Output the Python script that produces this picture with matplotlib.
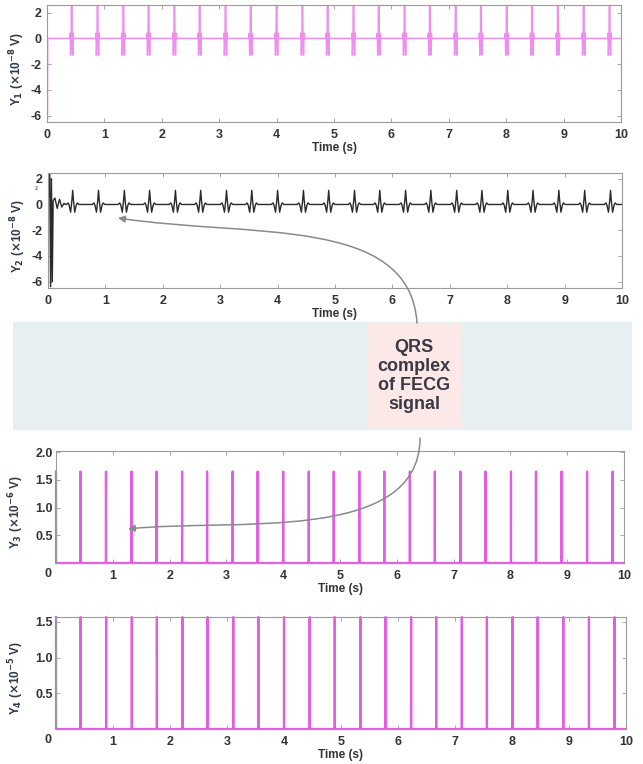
import numpy as np
import matplotlib
matplotlib.use("Agg")
import matplotlib.pyplot as plt
from matplotlib.path import Path
from matplotlib.patches import FancyArrowPatch, Rectangle

plt.rcParams["font.family"] = ["Liberation Sans", "DejaVu Sans"]
plt.rcParams["font.weight"] = "bold"

# beat instants (s) shared by all four channels
beat_times = [0.43, 0.88, 1.33, 1.77, 2.22, 2.66, 3.11, 3.55, 4.00, 4.45, 4.89,
              5.34, 5.78, 6.23, 6.67, 7.12, 7.56, 8.01, 8.45, 8.90, 9.35, 9.80]

# Y1 (x1e-8 V): start-up transient and per-beat shape
y1_start_t = [0.000, 0.006, 0.012]
y1_start_v = [3.0, -6.4, 0.0]
y1_beat_dt = [-0.034, -0.026, -0.019, -0.008, 0.000, 0.008, 0.019, 0.026, 0.034]
y1_beat_v = [0.0, 0.4, -1.3, 0.3, 9.0, 0.3, -1.3, 0.4, 0.0]

# Y2 (x1e-8 V): filtered FECG
y2_start_t = [0.000, 0.030, 0.045, 0.060, 0.075, 0.090, 0.120, 0.160, 0.200, 0.240, 0.280, 0.300]
y2_start_v = [0.0, 2.4, -6.4, 2.0, -6.0, 0.3, 0.5, -0.3, 0.4, -0.2, 0.1, 0.0]
y2_beat_dt = [-0.110, -0.080, -0.062, -0.036, -0.014, 0.000, 0.014, 0.036, 0.062, 0.080, 0.110]
y2_beat_v = [0.0, 0.12, -0.05, -0.6, 0.3, 1.1, 0.3, -0.6, -0.05, 0.12, 0.0]

# Y3 (x1e-6 V) and Y4 (x1e-5 V): detected R-peak pulses
y3_peak = 1.65
y4_peak = 1.57
pulse_dt = [-0.001, 0.000, 0.001]

t_end = 10.0


def build(start_t, start_v, dt, shape, beats):
    t = list(start_t)
    v = list(start_v)
    for b in beats:
        t += [b + d for d in dt]
        v += list(shape)
    t.append(t_end)
    v.append(0.0)
    return np.array(t), np.array(v)


t1, v1 = build(y1_start_t, y1_start_v, y1_beat_dt, y1_beat_v, beat_times)
t2, v2 = build(y2_start_t, y2_start_v, y2_beat_dt, y2_beat_v, beat_times)
t3, v3 = build([0.0, 0.001], [y3_peak, 0.0], pulse_dt, [0.0, y3_peak, 0.0], beat_times)
t4, v4 = build([0.0, 0.001], [y4_peak, 0.0], pulse_dt, [0.0, y4_peak, 0.0], beat_times)

W, H = 643, 764
fig = plt.figure(figsize=(W / 100, H / 100), dpi=100)


def px(l, t, r, b):
    return [l / W, 1 - b / H, (r - l) / W, (b - t) / H]


spine_c = "#9a9a9a"
tick_c = "#333333"
lab_c = "#2f3a4a"
pink_lt = "#f08ef0"
pink = "#e45ce4"

# shaded band and caption box between the upper and lower pairs
fig.patches.append(Rectangle((13 / W, 1 - 430 / H), 619 / W, 108 / H,
                             transform=fig.transFigure, fc="#e8eff3", ec="none", zorder=0))
fig.patches.append(Rectangle((368 / W, 1 - 428 / H), 93 / W, 105 / H,
                             transform=fig.transFigure, fc="#fde8e8", ec="none", zorder=0))
fig.text(414 / W, 1 - 376 / H, "QRS\ncomplex\nof FECG\nsignal", ha="center", va="center",
         fontsize=13, fontweight="bold", color="#3a3a44", linespacing=1.15)

axes = [fig.add_axes(px(47, 5, 621, 122)),
        fig.add_axes(px(48, 173, 622, 288)),
        fig.add_axes(px(56, 451, 624, 563)),
        fig.add_axes(px(56, 617, 626, 729))]

axes[0].plot(t1, v1, color=pink_lt, lw=1.1)
axes[1].plot(t2, v2, color="#2a2a2a", lw=1.0)
axes[2].plot(t3, v3, color=pink, lw=1.6, clip_on=False)
axes[3].plot(t4, v4, color=pink, lw=1.6, clip_on=False)

axes[0].set_ylim(-6.5, 2.6)
axes[1].set_ylim(-6.5, 2.45)
axes[2].set_ylim(0, 2.02)
axes[3].set_ylim(0, 1.57)

ylabels = [r"Y$_1$ ($\times$10$^{-8}$ V)", r"Y$_2$ ($\times$10$^{-8}$ V)",
           r"Y$_3$ ($\times$10$^{-6}$ V)", r"Y$_4$ ($\times$10$^{-5}$ V)"]
yticks = [[-6, -4, -2, 0, 2], [-6, -4, -2, 0, 2], [0.5, 1.0, 1.5, 2.0], [0.5, 1.0, 1.5]]
label_x = [-0.035, -0.035, -0.053, -0.053]

for i, ax in enumerate(axes):
    ax.set_xlim(0, 10)
    for s in ax.spines.values():
        s.set_color(spine_c)
        s.set_linewidth(0.8)
    ax.set_yticks(yticks[i])
    if i < 2:
        ax.set_xticks(range(0, 11))
        ax.set_yticklabels([str(v) for v in yticks[i]])
    else:
        ax.set_xticks(range(1, 11))
        ax.set_yticklabels(["%.1f" % v for v in yticks[i]])
        ax.annotate("0", xy=(0, 0), xycoords="axes fraction", xytext=(-5.8, -8),
                    textcoords="offset points", ha="center", va="center",
                    fontsize=9, fontweight="bold", color=tick_c)
    ax.tick_params(direction="in", length=3, width=0.6, color=spine_c,
                   top=True, right=True, labelsize=9, labelcolor=tick_c)
    ax.tick_params(axis="x", pad=5)
    ax.tick_params(axis="y", pad=4 if i < 2 else 2)
    for lbl in ax.get_xticklabels() + ax.get_yticklabels():
        lbl.set_fontweight("bold")
    ax.set_xlabel("Time (s)", fontsize=8.5, fontweight="bold", color=tick_c, labelpad=1)
    ax.set_ylabel(ylabels[i], fontsize=8.5, fontweight="bold", color=lab_c)
    ax.yaxis.set_label_coords(label_x[i], 0.45)

fig.text(36 / W, 1 - 189 / H, "2", fontsize=4, color="#666666", ha="center", va="center")


def curve(pts):
    p = [(x / W, 1 - y / H) for x, y in pts]
    return Path(p, [Path.MOVETO, Path.CURVE4, Path.CURVE4, Path.CURVE4])


for pts in ([(417, 323), (410, 215), (250, 238), (118, 218)],
            [(420, 438), (420, 545), (230, 518), (128, 529)]):
    fig.patches.append(FancyArrowPatch(path=curve(pts), transform=fig.transFigure,
                                       arrowstyle="-|>,head_length=4,head_width=2",
                                       color="#8a8a8a", lw=1.1, zorder=5))

fig.savefig("out.png", dpi=100)
